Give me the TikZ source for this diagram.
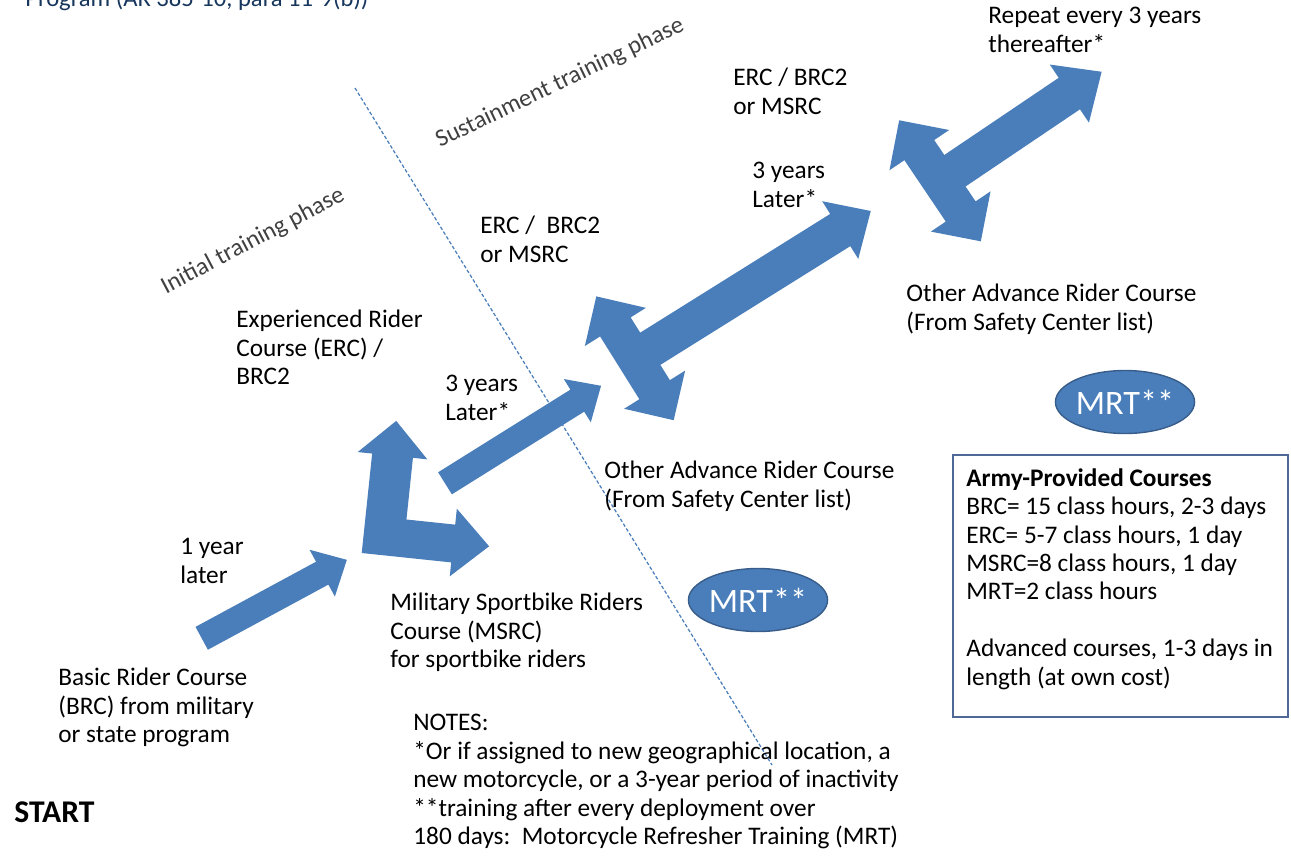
\documentclass[tikz,border=0pt]{standalone}
\usepackage{fontspec}
\setmainfont{Carlito}
\usetikzlibrary{shapes.geometric}
\definecolor{arrowblue}{RGB}{74,126,187}
\definecolor{rimblue}{RGB}{56,93,138}
\definecolor{titleblue}{RGB}{23,54,93}
\definecolor{boxrim}{RGB}{79,105,150}

\begin{document}
\begin{tikzpicture}[x=0.02cm, y=0.02cm,
    blockarrow/.style={fill=arrowblue},
    lbl/.style={anchor=north west, align=left, inner sep=0pt, font=\fontsize{14.4}{16.2}\selectfont},
    phase/.style={inner sep=0pt, text=black!75, font=\fontsize{14}{16}\selectfont},
    mrt/.style={ellipse, fill=arrowblue, draw=rimblue, line width=0.8pt, minimum width=2.46cm, minimum height=1.26cm, inner sep=0pt, text=white, font=\fontsize{19.5}{22}\selectfont},
    divider/.style={arrowblue, line width=0.7pt, dash pattern=on 2pt off 1.2pt},
    boxline/.style={draw=boxrim, line width=1.2pt}]

    \useasboundingbox (0,0) rectangle (1291,-856);

    \coordinate (a1) at (201.7,-638.3);
    \coordinate (a2) at (361.7,-553);
    \coordinate (a3) at (445,-483.3);
    \coordinate (a4) at (635,-358.3);
    \coordinate (a5) at (940,-180.8);
    \coordinate (divtop) at (355,-88);
    \coordinate (divbot) at (772,-765);

    \begin{scope}[shift={(a1)}, rotate=28.4]
      \fill[blockarrow] (0,-13) -- (137,-13) -- (137,-26.6) -- (165,0) -- (137,26.6) -- (137,13) -- (0,13) -- cycle;
    \end{scope}

    \begin{scope}[shift={(a2)}, rotate=-6]
      \fill[blockarrow] (0,0) -- (90,0) -- (90,-14) -- (126,20) -- (90,54) -- (90,38) -- (41,38) -- (41,100)
        -- (55.5,100) -- (20.5,135) -- (-14.5,100) -- (0,100) -- cycle;
    \end{scope}

    \begin{scope}[shift={(a3)}, rotate=32]
      \fill[blockarrow] (0,-13) -- (156,-13) -- (156,-25.5) -- (184,0) -- (156,25.5) -- (156,13) -- (0,13) -- cycle;
    \end{scope}

    \begin{scope}[shift={(a4)}, rotate=32]
      \fill[blockarrow] (278,0) -- (242,-34) -- (242,-19) -- (18,-19) -- (18,-37) -- (36,-37) -- (0,-73) -- (-36,-37)
        -- (-18,-37) -- (-18,37) -- (-36,37) -- (0,73) -- (36,37) -- (18,37) -- (18,19) -- (242,19) -- (242,34) -- cycle;
    \end{scope}

    \begin{scope}[shift={(a5)}, rotate=34]
      \fill[blockarrow] (195,0) -- (156,-35) -- (156,-19) -- (18,-19) -- (18,-37) -- (36,-37) -- (0,-73) -- (-36,-37)
        -- (-18,-37) -- (-18,37) -- (-36,37) -- (0,73) -- (36,37) -- (18,37) -- (18,19) -- (156,19) -- (156,35) -- cycle;
    \end{scope}

    \draw[divider] (divtop) -- (divbot);

    \node[anchor=base west, inner sep=0pt, text=titleblue, font=\fontsize{14}{17}\selectfont] (title) at (25,-6) {Program (AR 385-10, para 11-9(b))};
    \node[phase, rotate=27.8] (initial) at (253,-241) {Initial training phase};
    \node[phase, rotate=25.6] (sustain) at (560,-83) {Sustainment training phase};

    \node[lbl] (brc) at (58,-668) {Basic Rider Course\\(BRC) from military\\or state program};
    \node[lbl] (oneyear) at (180,-538) {1 year\\later};
    \node[lbl] (erc) at (236,-310) {Experienced Rider\\Course (ERC) /\\BRC2};
    \node[lbl] (later1) at (445,-375) {3 years\\Later*};
    \node[lbl] (msrc) at (390,-593) {Military Sportbike Riders\\Course (MSRC)\\for sportbike riders};
    \node[lbl] (erc2) at (480,-216) {ERC /\ \ BRC2\\or MSRC};
    \node[lbl] (adv1) at (604,-461) {Other Advance Rider Course\\(From Safety Center list)};
    \node[lbl] (later2) at (752,-162) {3 years\\Later*};
    \node[lbl] (erc3) at (733,-68) {ERC / BRC2\\or MSRC};
    \node[lbl] (repeat) at (988,-7) {Repeat every 3 years\\thereafter*};
    \node[lbl] (adv2) at (906,-284) {Other Advance Rider Course\\(From Safety Center list)};

    \node[mrt] (mrt1) at (758,-600) {MRT**};
    \node[mrt] (mrt2) at (1125,-402) {MRT**};

    \draw[boxline] (953,-455) rectangle (1288,-717);
    \node[lbl] (army) at (966,-468) {\textbf{Army-Provided Courses}\\BRC= 15 class hours, 2-3 days\\ERC= 5-7 class hours, 1 day\\MSRC=8 class hours, 1 day\\MRT=2 class hours\\[16pt]Advanced courses, 1-3 days in\\length (at own cost)};

    \node[lbl] (notes) at (413,-714) {NOTES:\\*Or if assigned to new geographical location, a\\new motorcycle, or a 3-year period of inactivity\\**training after every deployment over\\180 days:\ \ Motorcycle Refresher Training (MRT)};

    \node[anchor=west, inner sep=0pt, font=\fontsize{18}{20}\selectfont\bfseries] (start) at (14,-812) {START};

\end{tikzpicture}
\end{document}
